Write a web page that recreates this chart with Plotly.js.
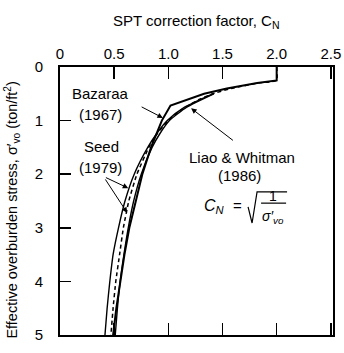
<!DOCTYPE html>
<html>
<head>
<meta charset="utf-8">
<script src="https://cdn.plot.ly/plotly-3.0.1.min.js"></script>
<style>html,body{margin:0;padding:0;background:#fff;}#chart{width:344px;height:353px;}</style>
</head>
<body>
<div id="chart"></div>
<script>
// Effective overburden stress (ton/ft^2) and SPT correction factor C_N
const sigmaBazaraa = [0, 0.25, 0.3, 0.4, 0.5, 0.6, 0.68, 0.72, 1.0, 1.5, 2.0, 2.5, 3.0, 3.5, 4.0, 4.5, 5.0];
const cnBazaraa    = [2.0, 2.0, 1.82, 1.54, 1.33, 1.18, 1.08, 1.02, 0.94, 0.84, 0.76, 0.70, 0.64, 0.595, 0.555, 0.52, 0.49];

const sigmaLiao = [0, 0.25, 0.3, 0.4, 0.5, 0.6, 0.8, 1.0, 1.25, 1.5, 2.0, 2.5, 3.0, 3.5, 4.0, 4.5, 5.0];
const cnLiao    = [2.0, 2.0, 1.83, 1.58, 1.41, 1.29, 1.12, 1.0, 0.895, 0.82, 0.71, 0.635, 0.585, 0.55, 0.515, 0.49, 0.47];

const sigmaSeed    = [0.5, 0.75, 1.0, 1.25, 1.5, 2.0, 2.5, 3.0, 3.5, 4.0, 4.5, 5.0];
const cnSeedLower  = [1.41, 1.15, 0.99, 0.89, 0.81, 0.685, 0.60, 0.54, 0.49, 0.46, 0.435, 0.415];
const cnSeedUpper  = [1.42, 1.17, 1.01, 0.92, 0.85, 0.75, 0.68, 0.63, 0.59, 0.555, 0.53, 0.51];

const xTickVals = [0, 0.5, 1.0, 1.5, 2.0, 2.5];
const xTickText = ['0', '0.5', '1.0', '1.5', '2.0', '2.5'];
const yTickVals = [0, 1, 2, 3, 4, 5];
const yTickText = ['0', '1', '2', '3', '4', '5'];

const FONT = 'Liberation Sans, Arial, Helvetica, sans-serif';

const traces = [
  {x: cnSeedLower, y: sigmaSeed, mode: 'lines', line: {color: '#000', width: 1.4, shape: 'spline', smoothing: 0.6}, name: 'Seed lower'},
  {x: cnSeedUpper, y: sigmaSeed, mode: 'lines', line: {color: '#000', width: 1.4, shape: 'spline', smoothing: 0.6}, name: 'Seed upper'},
  {x: cnLiao, y: sigmaLiao, mode: 'lines', line: {color: '#000', width: 1.5, dash: '4px,3px', shape: 'spline', smoothing: 0.4}, name: 'Liao & Whitman'},
  {x: cnBazaraa, y: sigmaBazaraa, mode: 'lines', line: {color: '#000', width: 2}, name: 'Bazaraa'}
];

function ann(text, x, y, extra) {
  return Object.assign({text: text, x: x, y: y, xref: 'x', yref: 'y', showarrow: false,
    font: {family: FONT, size: 15, color: '#000'}}, extra || {});
}
function arrow(tx, ty, ax, ay) {
  return {text: '', x: tx, y: ty, ax: ax, ay: ay, xref: 'x', yref: 'y', axref: 'x', ayref: 'y',
    showarrow: true, arrowhead: 2, arrowsize: 1.1, arrowwidth: 1, arrowcolor: '#000', standoff: 0, startstandoff: 0};
}

const annotations = [
  {text: 'SPT correction factor, C<sub>N</sub>', xref: 'paper', yref: 'paper', x: 0.5, y: 1.168,
   xanchor: 'center', yanchor: 'middle', showarrow: false, font: {family: FONT, size: 15, color: '#000'}},
  ann('Bazaraa', 0.37, 0.49),
  ann('(1967)', 0.37, 0.88),
  arrow(0.95, 0.95, 0.74, 0.73),
  ann('Seed', 0.38, 1.49),
  ann('(1979)', 0.37, 1.87),
  arrow(0.63, 2.26, 0.41, 2.05),
  arrow(0.62, 2.72, 0.41, 2.07),
  ann('Liao &amp; Whitman', 1.68, 1.68),
  ann('(1986)', 1.66, 2.02),
  arrow(1.21, 0.77, 1.61, 1.39),
  ann('<i>C<sub>N</sub></i>', 1.43, 2.61, {font: {family: FONT, size: 16, color: '#000'}}),
  ann('=', 1.635, 2.58, {font: {family: FONT, size: 15, color: '#000'}}),
  ann('1', 1.97, 2.40, {font: {family: FONT, size: 14, color: '#000'}}),
  ann('<i>σ′<sub>vo</sub></i>', 1.97, 2.80, {font: {family: FONT, size: 14, color: '#000'}}),
  {text: 'Effective overburden stress, σ′<sub>vo</sub> (ton/ft<sup>2</sup>)', xref: 'paper', yref: 'paper',
   x: -0.175, y: 0.465, textangle: -90, showarrow: false, xanchor: 'center', yanchor: 'middle',
   font: {family: FONT, size: 14.5, color: '#000'}}
];

const shapes = [
  {type: 'path', xref: 'x', yref: 'y', path: 'M 1.736,2.61 L 1.773,2.91 L 1.819,2.33 L 2.096,2.33',
   line: {color: '#000', width: 1.2}},
  {type: 'line', xref: 'x', yref: 'y', x0: 1.856, x1: 2.087, y0: 2.54, y1: 2.54, line: {color: '#000', width: 1.2}}
];

const layout = {
  width: 344, height: 353,
  margin: {l: 60, r: 11, t: 67, b: 18, pad: 0},
  paper_bgcolor: '#fff', plot_bgcolor: '#fff',
  showlegend: false,
  font: {family: FONT, size: 15, color: '#000'},
  xaxis: {
    side: 'top', range: [0, 2.52], tickvals: xTickVals, ticktext: xTickText,
    ticks: 'inside', ticklen: 12, tickwidth: 1.5, tickcolor: '#000',
    showline: true, linecolor: '#000', linewidth: 1.8, mirror: 'allticks',
    showgrid: false, zeroline: false, ticklabelstandoff: 0,
    tickfont: {family: FONT, size: 15, color: '#000'}
  },
  yaxis: {
    range: [5, 0], tickvals: yTickVals, ticktext: yTickText,
    ticks: 'inside', ticklen: 11, tickwidth: 1.5, tickcolor: '#000',
    showline: true, linecolor: '#000', linewidth: 1.8, mirror: true,
    showgrid: false, zeroline: false, ticklabelstandoff: 12,
    tickfont: {family: FONT, size: 15, color: '#000'}
  },
  annotations: annotations,
  shapes: shapes
};

Plotly.newPlot('chart', traces, layout, {staticPlot: true, displayModeBar: false});
</script>
</body>
</html>
